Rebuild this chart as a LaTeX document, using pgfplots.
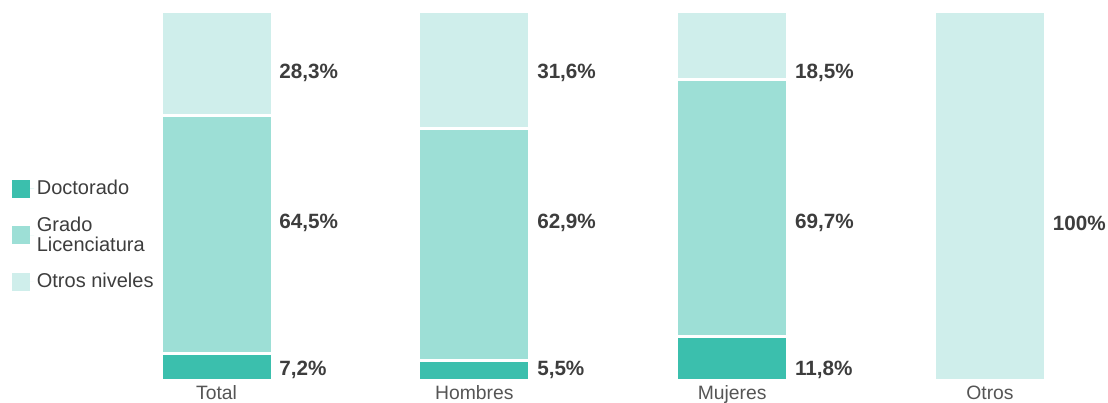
\documentclass[border=0pt]{standalone}
\usepackage{fontspec}
\setmainfont{Liberation Sans}
\usepackage{pgfplots}
\pgfplotsset{compat=1.18}

\definecolor{doct}{RGB}{59,191,173}
\definecolor{grado}{RGB}{157,223,214}
\definecolor{otros}{RGB}{207,238,235}
\definecolor{txt}{RGB}{61,61,61}
\definecolor{cat}{RGB}{85,85,85}
\tikzset{val/.style={anchor=west, inner sep=0pt, text=txt,
    font=\fontsize{15.5}{18}\selectfont\bfseries}}

\begin{document}
\begin{tikzpicture}
  \begin{axis}[
      scale only axis,
      width=831pt, height=276.75pt,
      xmin=-0.8398, xmax=3.4577,
      ymin=0, ymax=100,
      ybar stacked,
      bar width=83.25pt,
      axis line style={draw=none},
      major tick length=0pt,
      ytick=\empty,
      xtick={0,1,2,3},
      xticklabels={Total,Hombres,Mujeres,Otros},
      xticklabel style={font=\fontsize{14.5}{17}\selectfont, text=cat, yshift=-0.5pt},
      clip=false,
      every axis plot/.append style={draw=white, line width=2.25pt},
      legend style={at={(axis cs:-0.809,39.4)}, anchor=west, draw=none, fill=none,
        font=\fontsize{15}{15}\selectfont, text=txt,
        cells={anchor=west, align=left}, row sep=11pt},
      legend image code/.code={\fill[#1, draw=none] (0pt,-6.75pt) rectangle (13.5pt,6.75pt);
        \path[draw=none, line width=0pt] (0pt,0pt) -- (16.5pt,0pt);},
    ]
    \addplot[fill=doct] coordinates {(0,7.2) (1,5.5) (2,11.8) (3,0)};
    \addlegendentry{Doctorado}
    \addplot[fill=grado] coordinates {(0,64.5) (1,62.9) (2,69.7) (3,0)};
    \addlegendentry{Grado\\Licenciatura}
    \addplot[fill=otros] coordinates {(0,28.3) (1,31.6) (2,18.5) (3,100)};
    \addlegendentry{Otros niveles}

    \node[val] at (axis cs:0.243,83.4) {28,3\%};
    \node[val] at (axis cs:0.243,42.7) {64,5\%};
    \node[val] at (axis cs:0.243,2.85) {7,2\%};
    \node[val] at (axis cs:1.243,83.4) {31,6\%};
    \node[val] at (axis cs:1.243,42.7) {62,9\%};
    \node[val] at (axis cs:1.243,2.85) {5,5\%};
    \node[val] at (axis cs:2.243,83.4) {18,5\%};
    \node[val] at (axis cs:2.243,42.7) {69,7\%};
    \node[val] at (axis cs:2.243,2.85) {11,8\%};
    \node[val] at (axis cs:3.243,42.7) {100\%};

    \coordinate (bl) at (axis cs:-0.8398,-6.098);
    \coordinate (tr) at (axis cs:3.4577,103.117);
  \end{axis}
  \pgfresetboundingbox
  \path (bl) rectangle (tr);
\end{tikzpicture}
\end{document}
